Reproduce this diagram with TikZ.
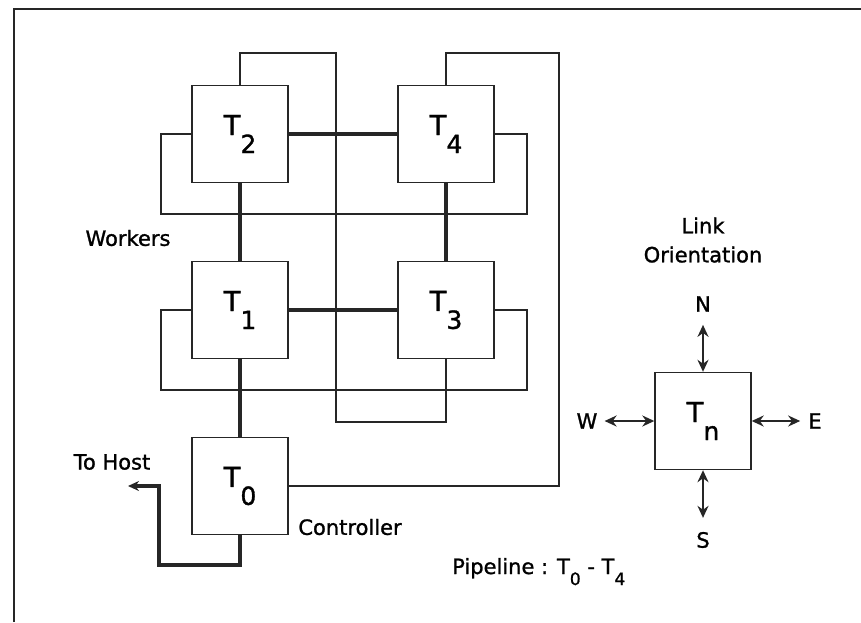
\documentclass[tikz,border=0pt]{standalone}
\usepackage{fontspec}
\setmainfont{DejaVu Sans}[FakeBold=1.2]
\usetikzlibrary{arrows.meta,positioning}

\newcommand\tsub[1]{T\raisebox{-18pt}{\fontsize{25}{25}\selectfont #1}}
\newcommand\psub[1]{T\raisebox{-11pt}{\fontsize{17}{17}\selectfont #1}}

\begin{document}
\begin{tikzpicture}[
  x=1pt, y=-1pt,
  font=\fontsize{21}{29}\selectfont,
  proc/.style={
    draw=black!85,
    line width=1.4pt,
    minimum width=96pt,
    minimum height=97pt,
    inner sep=0pt,
    font=\fontsize{27.5}{30}\selectfont
  },
  lbl/.style={inner sep=0pt},
  link/.style={draw=black!85, line width=1.4pt},
  mesh/.style={draw=black!85, line width=3.2pt},
  hostlink/.style={mesh, -{Stealth[length=11pt,width=10pt]}},
  orient/.style={draw=black!85, line width=2.4pt,
    {Stealth[length=12pt,width=11pt]}-{Stealth[length=12pt,width=11pt]}}
]

\useasboundingbox (0,0) rectangle (861,622);
\draw[line width=2pt, black!85] (14,622) -- (14,9) -- (861,9);

% transputer array
\node[proc] (t2) at (240,134) {\tsub{2}};
\node[proc] (t4) at (446,134) {\tsub{4}};
\node[proc] (t1) at (240,310) {\tsub{1}};
\node[proc] (t3) at (446,310) {\tsub{3}};
\node[proc] (t0) at (240,486) {\tsub{0}};

\draw[mesh] (t2) -- (t4);
\draw[mesh] (t1) -- (t3);
\draw[mesh] (t2) -- (t1);
\draw[mesh] (t4) -- (t3);
\draw[mesh] (t1) -- (t0);

\draw[link] (t2.north) |- (336,53) -- (336,422) -| (t3.south);
\draw[link] (t4.north) |- (559,53) |- (t0.east);
\draw[link] (t2.west) -| (161,214) -| (527,134) -- (t4.east);
\draw[link] (t1.west) -| (161,390) -| (527,310) -- (t3.east);

\coordinate (host) at (128,486);
\draw[hostlink] (t0.south) |- (159,565) |- (host);

\node[lbl] (workers) at (128,238) {Workers};
\node[lbl] (tohost) at (112,462) {To Host};
\node[lbl] (controller) at (350,527) {Controller};
\node[lbl, anchor=base west] (pipeline) at (452,574) {Pipeline : \psub{0} - \psub{4}};

% link orientation key
\node[lbl, align=center] (orientation) at (703,240) {Link\\Orientation};
\node[proc] (tn) at (703,421) {\tsub{n}};
\node[lbl] (n) at (703,304) {N};
\node[lbl] (s) at (703,540) {S};
\node[lbl] (w) at (587,421) {W};
\node[lbl] (e) at (815,421) {E};

\draw[orient, shorten <=13pt] (n) -- (tn);
\draw[orient, shorten >=14pt] (tn) -- (s);
\draw[orient, shorten >=7pt] (tn) -- (w);
\draw[orient, shorten >=8pt] (tn) -- (e);

\end{tikzpicture}
\end{document}
